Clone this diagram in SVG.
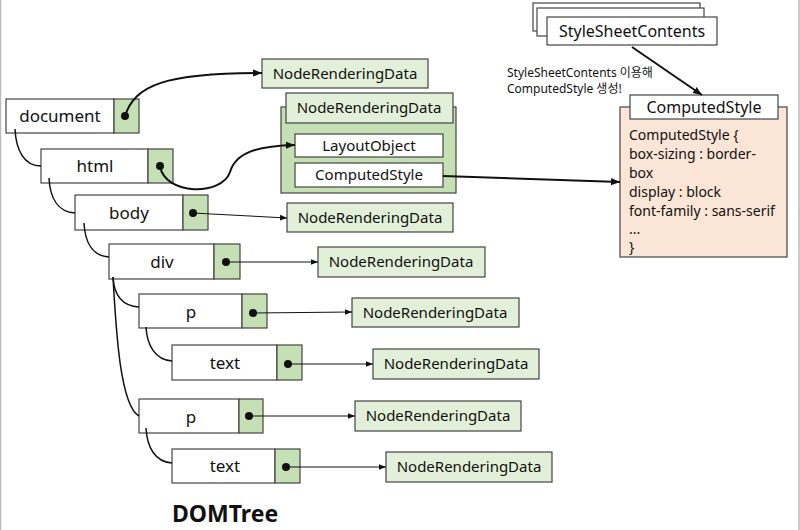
<svg xmlns="http://www.w3.org/2000/svg" width="800" height="530" viewBox="0 0 800 530">
<style>
text{font-family:"Noto Sans","Liberation Sans","Noto Sans CJK KR",sans-serif;fill:#111}
.nm{font-size:17px;text-anchor:middle}
.w{fill:#fff;stroke:#444;stroke-width:1.2}
.g{fill:#c5e0b4;stroke:#444;stroke-width:1.2}
.lg{fill:#e2f0d9;stroke:#444;stroke-width:1.2}
.nrd{font-size:15px;text-anchor:middle}
.tree{fill:none;stroke:#111;stroke-width:1.5}
.ptr{fill:none;stroke:#111;stroke-width:1;marker-end:url(#a)}
.ptr2{fill:none;stroke:#111;stroke-width:2;marker-end:url(#a2)}
.cs{font-size:14px}
</style>
<defs>
<marker id="a" viewBox="0 0 10 10" refX="10" refY="5" markerWidth="7" markerHeight="7" orient="auto" markerUnits="userSpaceOnUse"><path d="M0,1 L10,5 L0,9 z" fill="#111"/></marker>
<marker id="a2" viewBox="0 0 10 10" refX="10" refY="5" markerWidth="9" markerHeight="9" orient="auto" markerUnits="userSpaceOnUse"><path d="M0,1 L10,5 L0,9 z" fill="#111"/></marker>
</defs>
<rect x="0" y="0" width="800" height="530" fill="#fff"/>
<line x1="0.5" y1="0" x2="0.5" y2="530" stroke="#bbb" stroke-width="1.5"/>
<line x1="799" y1="0" x2="799" y2="530" stroke="#bbb" stroke-width="1.5"/>

<g id="document">
<rect class="w" x="6" y="99" width="108" height="34"/>
<rect class="g" x="114" y="99" width="25" height="34"/>
<text class="nm" x="60" y="122">document</text>
<circle cx="125" cy="116" r="4" fill="#111"/>
</g>
<g id="html">
<rect class="w" x="41" y="149" width="107" height="34"/>
<rect class="g" x="148" y="149" width="25" height="34"/>
<text class="nm" x="95" y="172">html</text>
<circle cx="160" cy="166" r="4" fill="#111"/>
</g>
<g id="body">
<rect class="w" x="75" y="195" width="108" height="35"/>
<rect class="g" x="183" y="195" width="25" height="35"/>
<text class="nm" x="129" y="219">body</text>
<circle cx="193" cy="213" r="4" fill="#111"/>
</g>
<g id="div">
<rect class="w" x="109" y="244" width="105" height="35"/>
<rect class="g" x="214" y="244" width="26" height="35"/>
<text class="nm" x="162" y="268">div</text>
<circle cx="226" cy="262" r="4" fill="#111"/>
</g>
<g id="p1">
<rect class="w" x="139" y="294" width="103" height="34"/>
<rect class="g" x="242" y="294" width="25" height="34"/>
<text class="nm" x="191" y="318">p</text>
<circle cx="253" cy="313" r="4" fill="#111"/>
</g>
<g id="text1">
<rect class="w" x="172" y="345" width="105" height="35"/>
<rect class="g" x="277" y="345" width="25" height="35"/>
<text class="nm" x="225" y="369">text</text>
<circle cx="288" cy="364" r="4" fill="#111"/>
</g>
<g id="p2">
<rect class="w" x="139" y="399" width="100" height="34"/>
<rect class="g" x="239" y="399" width="24" height="34"/>
<text class="nm" x="191" y="423">p</text>
<circle cx="249" cy="416" r="4" fill="#111"/>
</g>
<g id="text2">
<rect class="w" x="172" y="449" width="103" height="34"/>
<rect class="g" x="275" y="449" width="25" height="34"/>
<text class="nm" x="225" y="472">text</text>
<circle cx="286" cy="467" r="4" fill="#111"/>
</g>

<g id="nrd-doc">
<rect class="lg" x="262" y="59" width="166" height="29"/>
<text class="nrd" x="345" y="79">NodeRenderingData</text>
</g>
<g id="nrd-html">
<rect class="g" x="281" y="107" width="175" height="86"/>
<rect class="lg" x="286" y="93" width="167" height="30"/>
<text class="nrd" x="369" y="113">NodeRenderingData</text>
<rect class="w" x="295" y="134" width="148" height="23"/>
<text class="nrd" x="369" y="151">LayoutObject</text>
<rect class="w" x="295" y="163" width="148" height="24"/>
<text class="nrd" x="369" y="180">ComputedStyle</text>
</g>
<g id="nrd-body">
<rect class="lg" x="287" y="203" width="166" height="29"/>
<text class="nrd" x="370" y="223">NodeRenderingData</text>
</g>
<g id="nrd-div">
<rect class="lg" x="318" y="247" width="167" height="30"/>
<text class="nrd" x="401" y="267">NodeRenderingData</text>
</g>
<g id="nrd-p1">
<rect class="lg" x="352" y="298" width="167" height="29"/>
<text class="nrd" x="435" y="318">NodeRenderingData</text>
</g>
<g id="nrd-text1">
<rect class="lg" x="373" y="349" width="166" height="30"/>
<text class="nrd" x="456" y="369">NodeRenderingData</text>
</g>
<g id="nrd-p2">
<rect class="lg" x="355" y="401" width="166" height="30"/>
<text class="nrd" x="438" y="421">NodeRenderingData</text>
</g>
<g id="nrd-text2">
<rect class="lg" x="386" y="452" width="166" height="30"/>
<text class="nrd" x="469" y="472">NodeRenderingData</text>
</g>

<g id="stylesheets">
<rect class="w" x="533" y="3" width="167" height="28"/>
<rect class="w" x="537" y="8" width="167" height="28"/>
<rect class="w" x="547" y="17" width="170" height="28"/>
<text class="nrd" x="632" y="37" style="font-size:16px">StyleSheetContents</text>
</g>
<g id="note">
<text x="507" y="77" style="font-size:12px">StyleSheetContents 이용해</text>
<text x="507" y="93" style="font-size:12px">ComputedStyle 생성!</text>
</g>
<g id="computedstyle">
<rect x="620" y="107" width="167" height="150" fill="#fbe5d6" stroke="#444" stroke-width="1.2"/>
<rect class="w" x="630" y="95" width="148" height="24"/>
<text class="nrd" x="704" y="113" style="font-size:16px">ComputedStyle</text>
<text class="cs" x="629" y="140">ComputedStyle {</text>
<text class="cs" x="629" y="159">box-sizing : border-</text>
<text class="cs" x="629" y="178">box</text>
<text class="cs" x="629" y="197">display : block</text>
<text class="cs" x="629" y="216">font-family : sans-serif</text>
<text class="cs" x="629" y="234">...</text>
<text class="cs" x="629" y="252">}</text>
</g>
<text x="172" y="522" style="font-size:23px;font-weight:bold">DOMTree</text>

<g id="connectors">
<path class="tree" d="M15,129 C16,150 24,166 41,166"/>
<path class="tree" d="M49,178 C50,198 58,212 75,213"/>
<path class="tree" d="M84,223 C85,243 93,256 109,257"/>
<path class="tree" d="M113,277 C114,295 122,306 139,307"/>
<path class="tree" d="M113,277 C116,330 120,405 139,416"/>
<path class="tree" d="M146,327 C147,345 155,360 172,361"/>
<path class="tree" d="M146,428 C147,447 155,462 172,463"/>
<path class="ptr2" d="M125,116 C135,85 165,73 262,73"/>
<path class="ptr2" d="M160,166 C165,196 222,196 230,172 C236,152 258,146 295,145"/>
<path class="ptr" d="M193,213 L287,218"/>
<path class="ptr" d="M226,262 L318,262"/>
<path class="ptr" d="M253,313 L352,312"/>
<path class="ptr" d="M288,364 L373,364"/>
<path class="ptr" d="M249,416 L355,416"/>
<path class="ptr" d="M286,467 L386,467"/>
<path class="ptr2" d="M443,176 L620,182"/>
<path class="ptr2" d="M632,47 L702,95"/>
</g>
</svg>
